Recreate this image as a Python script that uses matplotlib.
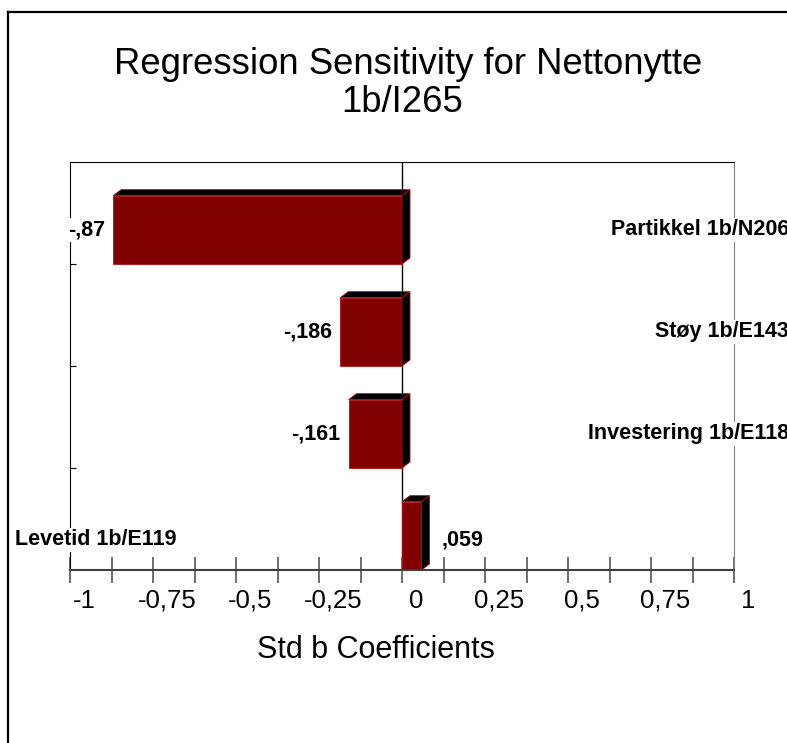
import numpy as np
import matplotlib
matplotlib.use("Agg")
import matplotlib.pyplot as plt
from matplotlib.patches import Polygon
from matplotlib.lines import Line2D
from matplotlib.transforms import ScaledTranslation

plt.rcParams["font.family"] = ["Liberation Sans", "DejaVu Sans"]

labels = ["Partikkel 1b/N206", "Støy 1b/E143", "Investering 1b/E118", "Levetid 1b/E119"]
values = [-0.87, -0.186, -0.161, 0.059]
tick_vals = [-1, -0.75, -0.5, -0.25, 0, 0.25, 0.5, 0.75, 1]
tick_text = ["-1", "-0,75", "-0,5", "-0,25", "0", "0,25", "0,5", "0,75", "1"]

BAR = "#800000"
EDGE = "#b01010"
WHITE_BOX = dict(facecolor="white", edgecolor="none", pad=1)


def fmt(v):
    s = f"{abs(v):g}".lstrip("0").replace(".", ",")
    return ("-" if v < 0 else "") + s


fig = plt.figure(figsize=(7.87, 7.43), dpi=100)
fig.patch.set_facecolor("white")
ax = fig.add_axes([70 / 787, 1 - 570 / 743, 664 / 787, 408 / 743])
ax.set_xlim(-1, 1)
ax.set_ylim(len(values), 0)

# pixel -> data scale for the 3d depth
px_x = 2 / 664
px_y = len(values) / 408
dx, dy = 8 * px_x, 6 * px_y
h = 0.67

ax.axvline(0, color="black", lw=1, zorder=1)

for i, v in enumerate(values):
    bot = i + 1
    top = bot - h
    ax.barh(bot - h / 2, v, height=h, left=0, color=BAR, edgecolor=EDGE, lw=0.6, zorder=2)
    x0, x1 = min(0, v), max(0, v)
    ax.add_patch(Polygon([(x0, top), (x0 + dx, top - dy), (x1 + dx, top - dy), (x1, top)],
                         closed=True, facecolor="black", edgecolor=EDGE, lw=0.6, zorder=2))
    ax.add_patch(Polygon([(x1, top), (x1 + dx, top - dy), (x1 + dx, bot - dy), (x1, bot)],
                         closed=True, facecolor="black", edgecolor=EDGE, lw=0.6, zorder=2))

    yc = bot - h / 2
    if v < 0:
        ax.annotate(fmt(v), (v, yc), xytext=(-8, 0), textcoords="offset pixels",
                    ha="right", va="center", fontsize=15.5, fontweight="bold",
                    zorder=4, bbox=WHITE_BOX)
        ax.text(1.166, yc, labels[i], ha="right", va="center", fontsize=15.5,
                fontweight="bold", clip_on=False, zorder=4, bbox=WHITE_BOX)
    else:
        ax.annotate(fmt(v), (v, yc + 0.04), xytext=(20, 0), textcoords="offset pixels",
                    ha="left", va="center", fontsize=15.5, fontweight="bold",
                    zorder=4, bbox=WHITE_BOX)
        ax.text(-1.166, yc + 0.04, labels[i], ha="left", va="center", fontsize=15.5,
                fontweight="bold", clip_on=False, zorder=4, bbox=WHITE_BOX)

# spines
ax.spines["left"].set_color("black")
ax.spines["top"].set_color("black")
ax.spines["right"].set_color("#808080")
ax.spines["bottom"].set_color("#404040")
ax.spines["bottom"].set_linewidth(1.5)

ax.set_yticks(np.arange(1, len(values)))
ax.tick_params(axis="y", direction="in", length=4, color="black", labelleft=False)

minor = [(a + b) / 2 for a, b in zip(tick_vals[:-1], tick_vals[1:])]
ax.set_xticks(tick_vals, tick_text)
ax.set_xticks(minor, minor=True)
ax.tick_params(axis="x", which="both", direction="inout", length=19, width=1.2,
               color="#555555", pad=4, labelsize=18.5)
shift = ScaledTranslation(14 / 100, 0, fig.dpi_scale_trans)
for lab in ax.get_xticklabels():
    lab.set_transform(lab.get_transform() + shift)

fig.text(0.518, 1 - 65 / 743, "Regression Sensitivity for Nettonytte",
         ha="center", va="center", fontsize=26.3)
fig.text(0.511, 1 - 103 / 743, "1b/I265", ha="center", va="center", fontsize=26.3)
fig.text(376 / 787, 1 - 650 / 743, "Std b Coefficients", ha="center", va="center", fontsize=22)

# outer frame (only left and top visible)
fig.add_artist(Line2D([8 / 787, 8 / 787], [0, 1 - 12 / 743], color="black", lw=1.6,
                      transform=fig.transFigure))
fig.add_artist(Line2D([8 / 787, 1], [1 - 12 / 743, 1 - 12 / 743], color="black", lw=1.6,
                      transform=fig.transFigure))

fig.savefig("out.png", dpi=100, facecolor="white")
